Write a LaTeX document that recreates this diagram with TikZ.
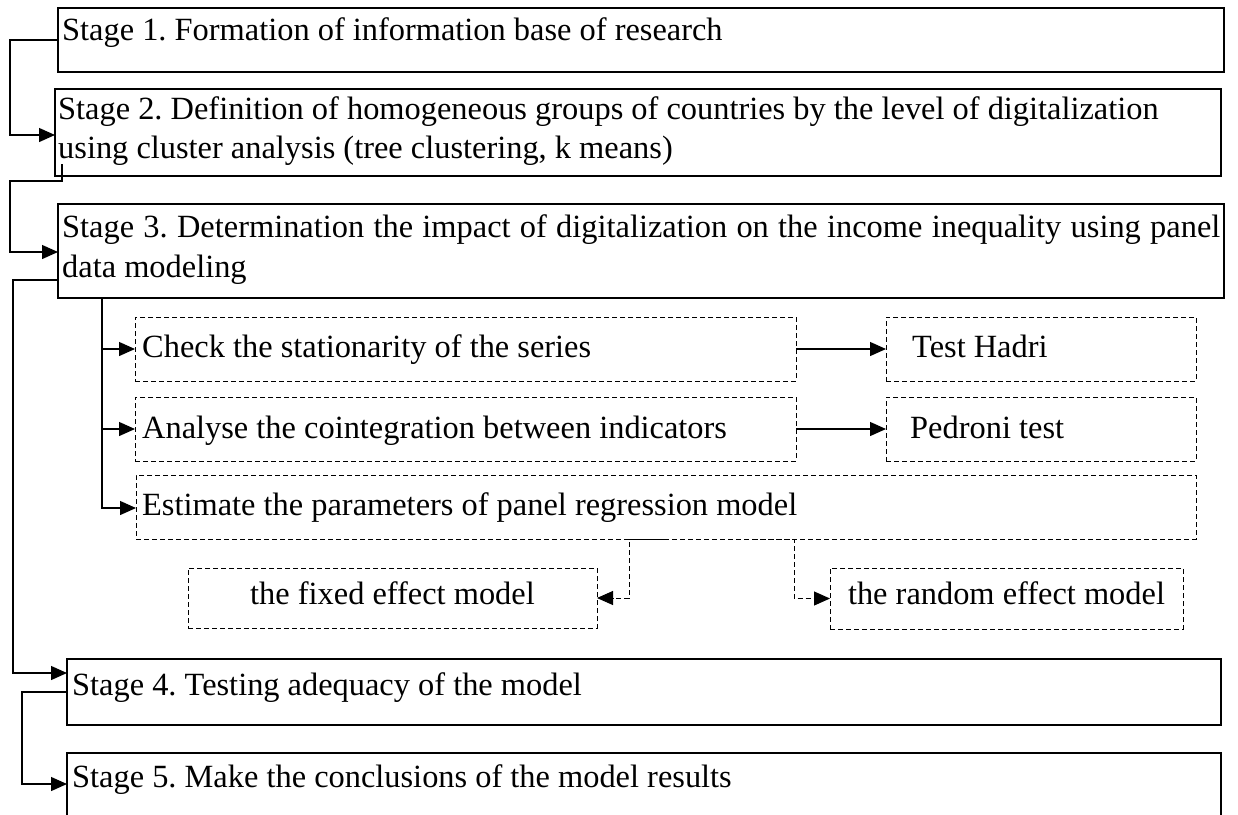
\documentclass[tikz,border=0pt]{standalone}
\usepackage{fontspec}
\setmainfont{Liberation Serif}
\usetikzlibrary{arrows.meta}
\frenchspacing
\begin{document}
\begin{tikzpicture}[x=1pt,y=-1pt,
 box/.style={draw, line width=1.2pt, rectangle, inner sep=0pt, outer sep=0pt, anchor=north west},
 dbox/.style={draw, line width=1pt, dash pattern=on 5pt off 3pt, rectangle, inner sep=0pt, outer sep=0pt, anchor=north west},
 txt/.style={anchor=base west, inner sep=0pt, font=\fontsize{32.4pt}{37pt}\selectfont},
 conn/.style={draw, line width=1.3pt, -{Triangle[length=16pt,width=14pt]}},
 dconn/.style={draw, line width=1pt, dash pattern=on 5pt off 3pt, -{Triangle[length=16pt,width=14pt]}},
]
\useasboundingbox (0,0) rectangle (1238,814);
\clip (0,0) rectangle (1238,814);

% Stage boxes
\node[box, minimum width=1166pt, minimum height=64pt] (s1) at (58,8) {};
\node[txt] (s1t) at (62,40) {Stage 1. Formation of information base of research};

\node[box, minimum width=1166pt, minimum height=87pt] (s2) at (55,89) {};
\node[txt] (s2a) at (58,119) {Stage 2. Definition of homogeneous groups of countries by the level of digitalization};
\node[txt] (s2b) at (58,158) {using cluster analysis (tree clustering, k means)};

\node[box, minimum width=1166pt, minimum height=94pt] (s3) at (58,204) {};
\node[txt] (s3a) at (62,237) {\makebox[1158pt][s]{Stage 3. Determination the impact of digitalization on the income inequality using panel}};
\node[txt] (s3b) at (62,277) {data modeling};

% Sub-steps
\node[dbox, minimum width=661pt, minimum height=64pt] (c1) at (135,317) {};
\node[txt] (c1t) at (142,357) {Check the stationarity of the series};
\node[dbox, minimum width=310pt, minimum height=64pt] (h1) at (886,317) {};
\node[txt] (h1t) at (912,357) {Test Hadri};

\node[dbox, minimum width=661pt, minimum height=64pt] (c2) at (135,397) {};
\node[txt] (c2t) at (142,438) {Analyse the cointegration between indicators};
\node[dbox, minimum width=310pt, minimum height=64pt] (h2) at (886,397) {};
\node[txt] (h2t) at (910,438) {Pedroni test};

\node[dbox, minimum width=1060pt, minimum height=64pt] (c3) at (136,475) {};
\node[txt] (c3t) at (142,515) {Estimate the parameters of panel regression model};

\node[dbox, minimum width=409pt, minimum height=60pt] (f) at (188,568) {};
\node[txt, anchor=base] (ft) at (392.5,604) {the fixed effect model};
\node[dbox, minimum width=353pt, minimum height=61pt] (r) at (830,568) {};
\node[txt, anchor=base] (rt) at (1006.5,604) {the random effect model};

\node[box, minimum width=1154pt, minimum height=66pt] (s4) at (67,659) {};
\node[txt] (s4t) at (72,695) {Stage 4. Testing adequacy of the model};

\node[box, minimum width=1154pt, minimum height=100pt] (s5) at (67,753) {};
\node[txt] (s5t) at (72,787) {Stage 5. Make the conclusions of the model results};

% Stage connectors
\draw[conn] ([yshift=-32pt]s1.north west) -- ++(-48,0) |- ([yshift=-46pt]s2.north west);
\draw[conn] ([xshift=7pt,yshift=12pt]s2.south west) -- ++(0,17) -- ++(-52,0) |- ([yshift=-48pt]s3.north west);
\draw[conn] ([yshift=18pt]s3.south west) -- ++(-45,0) |- ([yshift=-14pt]s4.north west);
\draw[conn] ([yshift=-33pt]s4.north west) -- ++(-45,0) |- ([yshift=-31pt]s5.north west);

% Sub-step connectors
\draw[conn] ([xshift=44pt]s3.south west) |- (c1.west);
\draw[conn] ([xshift=44pt]s3.south west) |- (c2.west);
\draw[conn] ([xshift=44pt]s3.south west) |- ([yshift=-33pt]c3.north west);
\draw[conn] (c1.east) -- (h1.west);
\draw[conn] (c2.east) -- (h2.west);

% Model connectors
\draw[dconn] (c3.south) -- ([xshift=-37pt]c3.south) |- (f.east);
\draw[dconn] ([xshift=87pt]c3.south) -- ([xshift=128pt]c3.south) |- (r.west);
\end{tikzpicture}
\end{document}
